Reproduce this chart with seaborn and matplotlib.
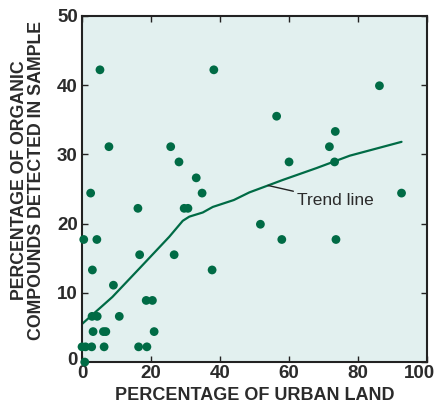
import matplotlib
matplotlib.use("Agg")
import matplotlib.pyplot as plt
import matplotlib.transforms as mtransforms
import seaborn as sns
import pandas as pd

# Scatter data (percentage of urban land, percentage of organic compounds detected)
urban = [5.2, 38.2, 7.8, 25.7, 28.1, 33.1, 34.8, 2.5,
         86.2, 56.4, 73.4, 71.7, 60.0, 73.2, 92.6,
         16.2, 29.6, 30.7, 0.5, 4.3, 16.7, 26.7, 3.0, 37.7, 9.1,
         18.6, 20.4, 2.9, 4.4, 10.8, 3.2, 6.2, 6.9, 20.9,
         0.0, 1.0, 2.8, 6.4, 16.4, 18.8, 0.8,
         51.7, 57.9, 73.6]
organic = [42.2, 42.2, 31.1, 31.1, 28.9, 26.6, 24.4, 24.4,
           39.9, 35.5, 33.3, 31.1, 28.9, 28.9, 24.4,
           22.2, 22.2, 22.2, 17.7, 17.7, 15.5, 15.5, 13.3, 13.3, 11.1,
           8.9, 8.9, 6.6, 6.6, 6.6, 4.4, 4.4, 4.4, 4.4,
           2.2, 2.2, 2.2, 2.2, 2.2, 2.2, 0.0,
           19.9, 17.7, 17.7]

# Trend line
trend_x = [0.0, 8.8, 16.6, 25.3, 29.2, 31.1, 35.0, 37.9, 44.0, 48.5, 53.9, 58.2, 67.9, 77.6, 92.6]
trend_y = [5.5, 9.4, 13.5, 18.1, 20.4, 21.0, 21.6, 22.4, 23.4, 24.5, 25.5, 26.3, 28.0, 29.8, 31.8]

x_ticks = [0, 20, 40, 60, 80, 100]
y_ticks = [0, 10, 20, 30, 40, 50]

sns.set_style("ticks")
plt.rcParams['font.family'] = ['Liberation Sans', 'DejaVu Sans']

green = "#006b45"
text_col = "#2b2b2b"

fig = plt.figure(figsize=(4.34, 4.05), dpi=100)
ax = fig.add_axes([0.189, 0.106, 0.795, 0.855])
ax.set_facecolor("#e2f0ef")

pts = pd.DataFrame({"urban": urban, "organic": organic})
tr = pd.DataFrame({"x": trend_x, "y": trend_y})

sns.lineplot(data=tr, x="x", y="y", ax=ax, color=green, linewidth=1.6, sort=False)
sns.scatterplot(data=pts, x="urban", y="organic", ax=ax, color=green, s=40,
                edgecolor="none", clip_on=False, zorder=5)

ax.set_xlim(0, 100)
ax.set_ylim(0, 50)
ax.set_xticks(x_ticks)
ax.set_yticks(y_ticks)
ax.tick_params(direction="in", top=True, right=True, length=4, width=1,
               labelsize=13.5, colors="#222222", labelcolor=text_col, pad=3)
ax.tick_params(axis="x", pad=2)
for lab in ax.get_xticklabels() + ax.get_yticklabels():
    lab.set_fontweight("bold")

# nudge the corner labels like the reference (100 pulled in, y-axis 0 lifted)
xlabs = ax.get_xticklabels()
xlabs[-1].set_transform(xlabs[-1].get_transform() +
                        mtransforms.ScaledTranslation(-0.08, 0, fig.dpi_scale_trans))
ylabs = ax.get_yticklabels()
ylabs[0].set_transform(ylabs[0].get_transform() +
                       mtransforms.ScaledTranslation(0, 0.04, fig.dpi_scale_trans))

for sp in ax.spines.values():
    sp.set_linewidth(1.5)
    sp.set_color("#222222")

ax.set_xlabel("PERCENTAGE OF URBAN LAND", fontsize=13, fontweight="bold",
              color=text_col)
ax.set_ylabel("PERCENTAGE OF ORGANIC\nCOMPOUNDS DETECTED IN SAMPLE", fontsize=12.8,
              fontweight="bold", color=text_col, linespacing=1.0)
ax.yaxis.set_label_coords(-0.108, 0.525)
ax.xaxis.set_label_coords(0.5, -0.072)

ax.annotate("Trend line", xy=(53.9, 25.5), xytext=(62.2, 23.3),
            fontsize=12.5, color=text_col, va="center", ha="left",
            arrowprops=dict(arrowstyle="-", color="#222222", lw=1,
                            shrinkA=0, shrinkB=0))

fig.savefig("out.png", dpi=100)
